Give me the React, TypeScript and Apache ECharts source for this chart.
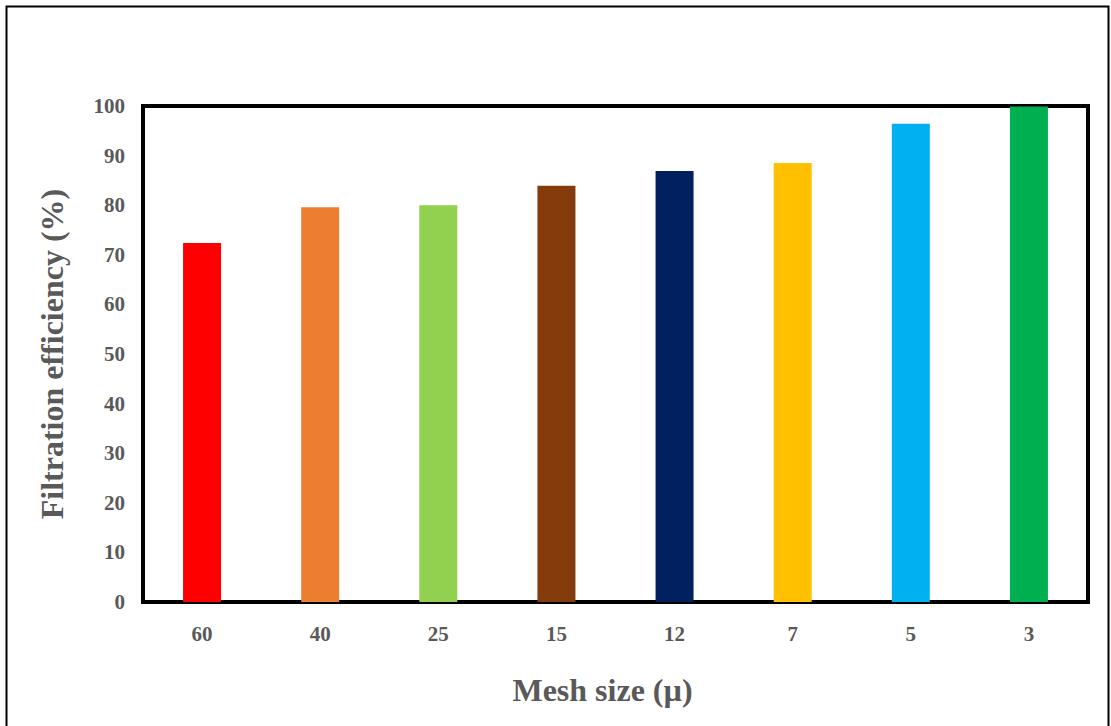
import React, { useEffect, useRef } from "react";
import * as echarts from "echarts";

const categories = ["60", "40", "25", "15", "12", "7", "5", "3"];
const efficiency = [72.4, 79.6, 80.0, 83.9, 86.9, 88.5, 96.4, 99.9];
const barColors = ["#FF0000", "#ED7D31", "#92D050", "#843C0C", "#002060", "#FFC000", "#00B0F0", "#00B050"];
const yTicks = { min: 0, max: 100, interval: 10 };

const FONT = "'Liberation Serif', 'Times New Roman', serif";

export default function App() {
  const ref = useRef<HTMLDivElement>(null);
  useEffect(() => {
    const chart = echarts.init(ref.current!, null, { renderer: "svg" });
    chart.setOption({
      animation: false,
      backgroundColor: "#ffffff",
      grid: {
        left: 143,
        right: 23,
        top: 106,
        bottom: 124,
        show: true,
        borderColor: "#000000",
        borderWidth: 4,
        backgroundColor: "transparent",
      },
      xAxis: {
        type: "category",
        data: categories,
        axisLine: { show: false },
        axisTick: { show: false },
        axisLabel: { color: "#595959", fontFamily: FONT, fontWeight: "bold", fontSize: 21, margin: 21 },
        name: "Mesh size (µ)",
        nameLocation: "middle",
        nameGap: 72,
        nameTextStyle: {
          color: "#595959",
          fontFamily: FONT,
          fontWeight: "bold",
          fontSize: 32,
          padding: [0, 26, 0, 0],
        },
      },
      yAxis: {
        type: "value",
        min: yTicks.min,
        max: yTicks.max,
        interval: yTicks.interval,
        axisLine: { show: false },
        axisTick: { show: false },
        splitLine: { show: false },
        axisLabel: { color: "#595959", fontFamily: FONT, fontWeight: "bold", fontSize: 21, margin: 18 },
        name: "Filtration efficiency (%)",
        nameLocation: "middle",
        nameGap: 75,
        nameTextStyle: { color: "#595959", fontFamily: FONT, fontWeight: "bold", fontSize: 32 },
      },
      series: [
        {
          type: "bar",
          barWidth: 38,
          data: efficiency.map((v, i) => ({ value: v, itemStyle: { color: barColors[i] } })),
        },
      ],
      graphic: [
        {
          type: "rect",
          shape: { x: 6.5, y: 6.5, width: 1102, height: 730 },
          style: { fill: "none", stroke: "#000000", lineWidth: 2 },
          silent: true,
        },
      ],
    });
    return () => chart.dispose();
  }, []);
  return (
    <div
      ref={ref}
      style={{ position: "fixed", left: 0, top: 0, width: 1111, height: 726 }}
    />
  );
}
